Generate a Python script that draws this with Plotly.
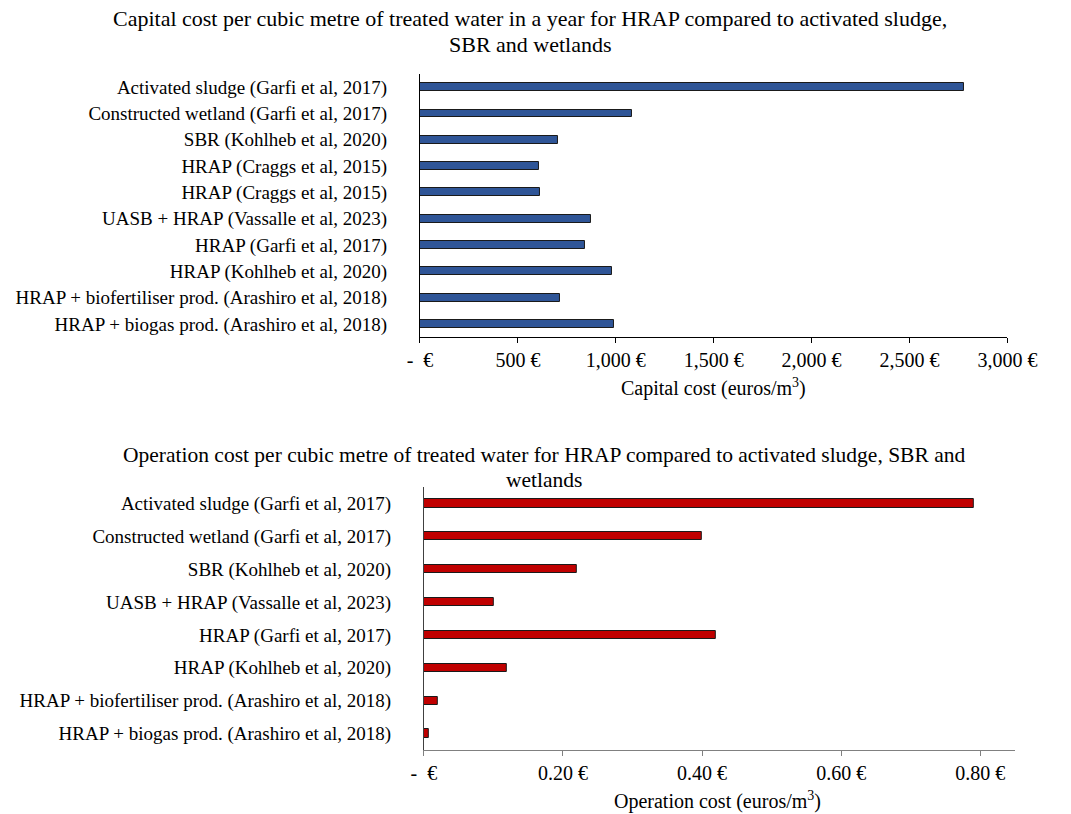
import plotly.graph_objects as go

# ---- data ----
capital_labels = [
    "Activated sludge (Garfi et al, 2017)",
    "Constructed wetland (Garfi et al, 2017)",
    "SBR (Kohlheb et al, 2020)",
    "HRAP (Craggs et al, 2015)",
    "HRAP (Craggs et al, 2015)",
    "UASB + HRAP (Vassalle et al, 2023)",
    "HRAP (Garfi et al, 2017)",
    "HRAP (Kohlheb et al, 2020)",
    "HRAP + biofertiliser prod. (Arashiro et al, 2018)",
    "HRAP + biogas prod. (Arashiro et al, 2018)",
]
capital_values = [2777, 1082, 707, 610, 614, 873, 845, 983, 717, 989]

operation_labels = [
    "Activated sludge (Garfi et al, 2017)",
    "Constructed wetland (Garfi et al, 2017)",
    "SBR (Kohlheb et al, 2020)",
    "UASB + HRAP (Vassalle et al, 2023)",
    "HRAP (Garfi et al, 2017)",
    "HRAP (Kohlheb et al, 2020)",
    "HRAP + biofertiliser prod. (Arashiro et al, 2018)",
    "HRAP + biogas prod. (Arashiro et al, 2018)",
]
operation_values = [0.79, 0.40, 0.22, 0.10, 0.42, 0.12, 0.02, 0.007]

capital_ticks = [0, 500, 1000, 1500, 2000, 2500, 3000]
capital_ticktext = ["-\u00a0\u00a0€", "500 €", "1,000 €", "1,500 €", "2,000 €", "2,500 €", "3,000 €"]
operation_ticks = [0, 0.2, 0.4, 0.6, 0.8]
operation_ticktext = ["-\u00a0\u00a0€", "0.20 €", "0.40 €", "0.60 €", "0.80 €"]

title1_lines = ["Capital cost per cubic metre of treated water in a year for HRAP compared to activated sludge,",
                "SBR and wetlands"]
title2_lines = ["Operation cost per cubic metre of treated water for HRAP compared to activated sludge, SBR and",
                "wetlands"]

W, H = 1071, 814
FONT = "Liberation Serif, Times New Roman, serif"
FS = 20
LFS = 19

def px_x(p):
    return p / W

def px_y(p):
    return 1 - p / H

cap_pos = list(range(len(capital_labels)))
op_pos = list(range(len(operation_labels)))

fig = go.Figure()
fig.add_trace(go.Bar(
    x=capital_values, y=cap_pos, orientation="h", width=0.3,
    marker=dict(color="#2F5597", line=dict(color="#1a1a1a", width=1)),
    xaxis="x", yaxis="y", showlegend=False, hoverinfo="x",
))
fig.add_trace(go.Bar(
    x=operation_values, y=op_pos, orientation="h", width=0.25,
    marker=dict(color="#C00000", line=dict(color="#1a1a1a", width=1)),
    xaxis="x2", yaxis="y2", showlegend=False, hoverinfo="x",
))

axis_common = dict(showgrid=False, zeroline=False, ticks="outside", ticklen=5,
                   tickfont=dict(family=FONT, size=FS, color="#000"))

fig.update_layout(
    width=W, height=H,
    margin=dict(l=0, r=0, t=0, b=0),
    paper_bgcolor="white", plot_bgcolor="white",
    font=dict(family=FONT, size=FS, color="#000"),
    bargap=0,
    xaxis=dict(domain=[px_x(424), px_x(1036)], range=[0, 3000],
               tickvals=capital_ticks, ticktext=capital_ticktext,
               showline=True, linecolor="#000", linewidth=1, tickcolor="#000",
               anchor="y", **axis_common),
    yaxis=dict(domain=[px_y(337), px_y(74)], range=[9.5, -0.5],
               tickvals=cap_pos, ticktext=capital_labels,
               showline=True, linecolor="#000", linewidth=1.3,
               showgrid=False, zeroline=False, ticks="", ticklabelstandoff=28,
               tickfont=dict(family=FONT, size=LFS, color="#000"), anchor="x"),
    xaxis2=dict(domain=[px_x(428), px_x(1044)], range=[0, 0.85],
                tickvals=operation_ticks, ticktext=operation_ticktext,
                showline=True, linecolor="#808080", linewidth=1, tickcolor="#808080",
                anchor="y2", **axis_common),
    yaxis2=dict(domain=[px_y(750), px_y(487)], range=[7.5, -0.5],
                tickvals=op_pos, ticktext=operation_labels,
                showline=True, linecolor="#404040", linewidth=1,
                showgrid=False, zeroline=False, ticks="", ticklabelstandoff=28,
                tickfont=dict(family=FONT, size=LFS, color="#000"), anchor="x2"),
)

def ann(text, x, y, size):
    return dict(text=text, x=px_x(x), y=px_y(y), xref="paper", yref="paper",
                showarrow=False, font=dict(family=FONT, size=size),
                xanchor="center", yanchor="middle")

annotations = [
    ann(title1_lines[0], 539, 19, 22),
    ann(title1_lines[1], 539, 44, 22),
    ann("Capital cost (euros/m<sup>3</sup>)", 730, 387, FS),
    ann(title2_lines[0], 553, 455, 21.5),
    ann(title2_lines[1], 553, 480, 21.5),
    ann("Operation cost (euros/m<sup>3</sup>)", 734, 800, FS),
]
fig.update_layout(annotations=annotations)

fig.write_html("out.html", config={"displayModeBar": False},
               post_script="document.body.style.margin='0';document.body.style.overflow='hidden';")
